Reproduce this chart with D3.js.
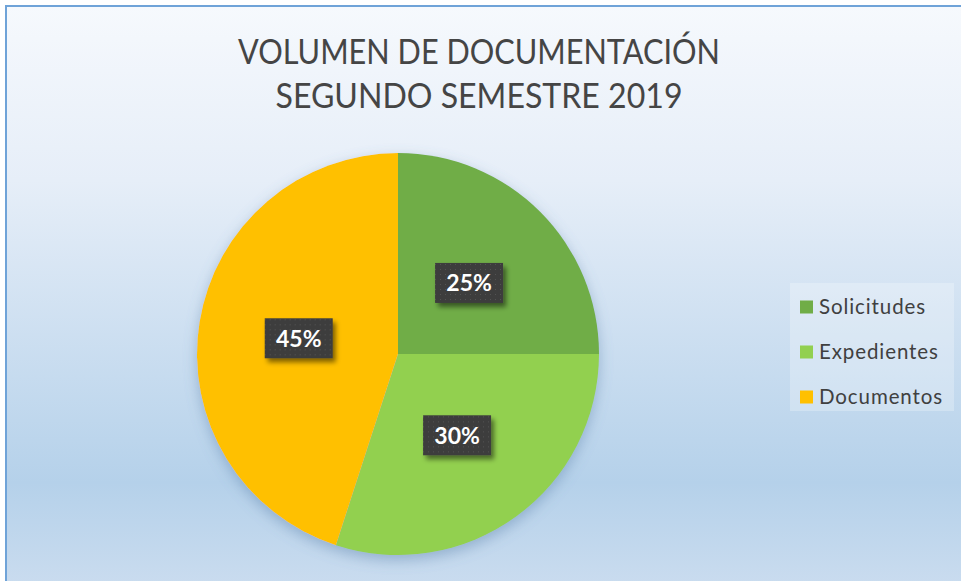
<!DOCTYPE html>
<html>
<head>
<meta charset="utf-8">
<script src="https://cdn.jsdelivr.net/npm/d3@7"></script>
<style>
  html, body { margin: 0; padding: 0; background: #ffffff; }
  svg { display: block; }
  text { font-family: Lato, "Open Sans", sans-serif; }
</style>
</head>
<body>
<svg id="chart" width="961" height="581"></svg>
<script>
// data
const categories = ["Solicitudes", "Expedientes", "Documentos"];
const values = [25, 30, 45];
const colors = ["#70ad47", "#92d050", "#ffc000"];
const titleLines = ["VOLUMEN DE DOCUMENTACIÓN", "SEGUNDO SEMESTRE 2019"];

const layout = { width: 961, height: 581, cx: 398, cy: 354, r: 201 };

const svg = d3.select("#chart");
const defs = svg.append("defs");

// background gradient
const bg = defs.append("linearGradient")
  .attr("id", "bg").attr("x1", 0).attr("y1", 0).attr("x2", 0).attr("y2", 1);
bg.append("stop").attr("offset", "0%").attr("stop-color", "#f6f9fd");
bg.append("stop").attr("offset", "30%").attr("stop-color", "#e6eef8");
bg.append("stop").attr("offset", "82%").attr("stop-color", "#b5d1ea");
bg.append("stop").attr("offset", "100%").attr("stop-color", "#cadcef");

// soft shadow for pie
const pieShadow = defs.append("filter").attr("id", "pieShadow")
  .attr("x", "-20%").attr("y", "-20%").attr("width", "140%").attr("height", "140%");
pieShadow.append("feGaussianBlur").attr("in", "SourceAlpha").attr("stdDeviation", 7).attr("result", "blur");
pieShadow.append("feOffset").attr("dy", 5).attr("result", "off");
pieShadow.append("feFlood").attr("flood-color", "#5a7fa8").attr("flood-opacity", 0.45);
pieShadow.append("feComposite").attr("in2", "off").attr("operator", "in");
const pm = pieShadow.append("feMerge");
pm.append("feMergeNode");
pm.append("feMergeNode").attr("in", "SourceGraphic");

// shadow for label boxes
const boxShadow = defs.append("filter").attr("id", "boxShadow")
  .attr("x", "-30%").attr("y", "-30%").attr("width", "170%").attr("height", "170%");
boxShadow.append("feGaussianBlur").attr("in", "SourceAlpha").attr("stdDeviation", 2.5);
boxShadow.append("feOffset").attr("dx", 3).attr("dy", 4).attr("result", "off");
boxShadow.append("feComponentTransfer").append("feFuncA").attr("type", "linear").attr("slope", 0.5);
const bm = boxShadow.append("feMerge");
bm.append("feMergeNode");
bm.append("feMergeNode").attr("in", "SourceGraphic");

// dotted texture for label boxes
const pat = defs.append("pattern").attr("id", "dots")
  .attr("width", 5).attr("height", 5).attr("patternUnits", "userSpaceOnUse");
pat.append("rect").attr("width", 5).attr("height", 5).attr("fill", "#3d3d3d");
pat.append("rect").attr("x", 1).attr("y", 1).attr("width", 1).attr("height", 1).attr("fill", "#555555");

// chart area
svg.append("rect")
  .attr("x", 6).attr("y", 6)
  .attr("width", layout.width).attr("height", layout.height)
  .attr("fill", "url(#bg)")
  .attr("stroke", "#6fa3d8").attr("stroke-width", 2);

// title (Calibri-like narrow fit)
const titleWidths = [482, 407];
svg.append("g")
  .selectAll("text")
  .data(titleLines)
  .join("text")
  .attr("x", 479)
  .attr("y", (d, i) => 64 + i * 44)
  .attr("text-anchor", "middle")
  .attr("fill", "#454545")
  .attr("font-size", 34)
  .attr("textLength", (d, i) => titleWidths[i])
  .attr("lengthAdjust", "spacingAndGlyphs")
  .text(d => d);

// pie
const pie = d3.pie().sort(null).value(d => d)(values);
const arc = d3.arc().innerRadius(0).outerRadius(layout.r);

const g = svg.append("g").attr("transform", `translate(${layout.cx},${layout.cy})`);
g.append("g").attr("filter", "url(#pieShadow)")
  .selectAll("path")
  .data(pie)
  .join("path")
  .attr("d", arc)
  .attr("fill", (d, i) => colors[i]);

// data labels
const total = d3.sum(values);
const labels = g.selectAll(".lbl")
  .data(pie)
  .join("g")
  .attr("class", "lbl")
  .attr("transform", d => `translate(${arc.centroid(d)})`);

labels.append("rect")
  .attr("x", -34).attr("y", -20)
  .attr("width", 68).attr("height", 40)
  .attr("fill", "url(#dots)")
  .attr("filter", "url(#boxShadow)");

labels.append("text")
  .attr("text-anchor", "middle")
  .attr("dy", "0.36em")
  .attr("fill", "#ffffff")
  .attr("font-weight", "bold")
  .attr("font-size", 23)
  .text(d => Math.round(d.value / total * 100) + "%");

// legend
const legend = svg.append("g").attr("transform", "translate(790,283)");
legend.append("rect")
  .attr("width", 164).attr("height", 128)
  .attr("fill", "#ffffff").attr("fill-opacity", 0.25);

const item = legend.selectAll(".item")
  .data(categories)
  .join("g")
  .attr("class", "item")
  .attr("transform", (d, i) => `translate(10,${24 + i * 45})`);

item.append("rect")
  .attr("x", 0).attr("y", -6.5)
  .attr("width", 13).attr("height", 13)
  .attr("fill", (d, i) => colors[i]);

item.append("text")
  .attr("x", 19).attr("dy", "0.36em")
  .attr("fill", "#404040")
  .attr("font-size", 20.5)
  .attr("letter-spacing", 0.9)
  .text(d => d);
</script>
</body>
</html>
